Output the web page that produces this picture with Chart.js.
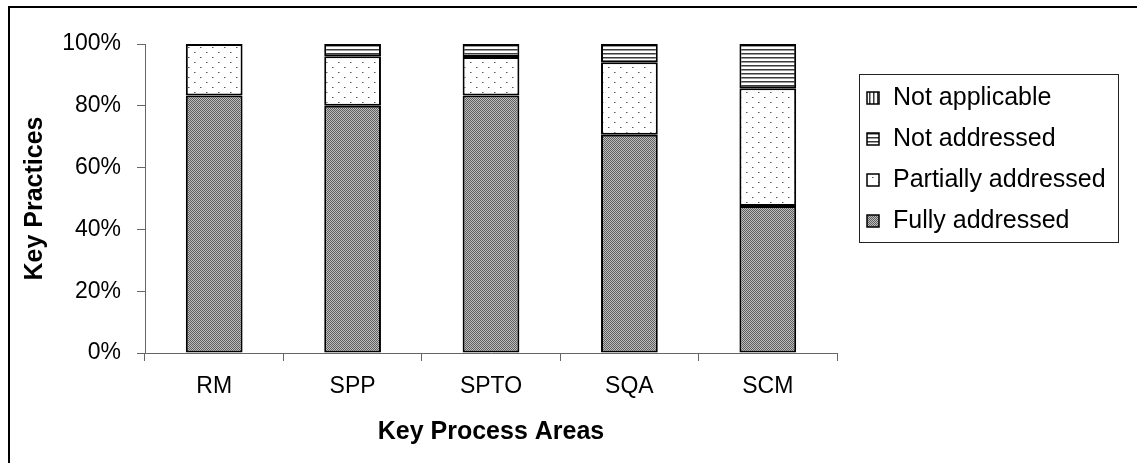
<!DOCTYPE html>
<html>
<head>
<meta charset="utf-8">
<title>Key Practices by Key Process Area</title>
<script src="https://cdn.jsdelivr.net/npm/chart.js@4.4.1/dist/chart.umd.min.js"></script>
<style>
  html, body { margin: 0; padding: 0; background: #fff; }
  #wrap { position: relative; width: 1137px; height: 463px; }
  canvas { display: block; }
</style>
</head>
<body>
<div id="wrap"><canvas id="kpa" width="1137" height="463"></canvas></div>
<script>
// Key process areas and the share of their key practices in each state (%)
const categories = ['RM', 'SPP', 'SPTO', 'SQA', 'SCM'];
const fullyAddressed     = [83.3, 80.0, 83.3, 70.6, 47.6];
const partiallyAddressed = [16.7, 16.0, 12.5, 23.5, 38.1];
const notAddressed       = [0.0, 4.0, 4.2, 5.9, 14.3];
const notApplicable      = [0, 0, 0, 0, 0];
const yTicks = [0, 20, 40, 60, 80, 100];

const FONT = '"Liberation Sans", Arial, sans-serif';

// Fill textures for the stacked segments
function tile(w, h, paint) {
  const c = document.createElement('canvas');
  c.width = w; c.height = h;
  const g = c.getContext('2d');
  paint(g);
  return document.createElement('canvas').getContext('2d').createPattern(c, 'repeat');
}
const denseFill = tile(4, 4, g => {
  g.fillStyle = '#bdbdbd'; g.fillRect(0, 0, 4, 4);
  g.fillStyle = '#5f5f5f';
  for (let y = 0; y < 4; y++) for (let x = 0; x < 4; x++) if ((x + y) % 2 === 0) g.fillRect(x, y, 1, 1);
});
const dotFill = tile(12, 10, g => {
  g.fillStyle = '#fff'; g.fillRect(0, 0, 12, 10);
  g.fillStyle = '#555'; g.fillRect(2, 2, 1, 1); g.fillRect(8, 7, 1, 1);
  g.fillStyle = '#aaa'; g.fillRect(3, 2, 1, 1); g.fillRect(9, 7, 1, 1);
});
const hLineFill = tile(4, 4, g => {
  g.fillStyle = '#fff'; g.fillRect(0, 0, 4, 4);
  g.fillStyle = '#3a3a3a'; g.fillRect(0, 1, 4, 1);
  g.fillStyle = '#9a9a9a'; g.fillRect(0, 2, 4, 1);
});
const vLineFill = tile(4, 4, g => {
  g.fillStyle = '#fff'; g.fillRect(0, 0, 4, 4);
  g.fillStyle = '#3a3a3a'; g.fillRect(1, 0, 1, 4);
  g.fillStyle = '#9a9a9a'; g.fillRect(2, 0, 1, 4);
});

// Outer frame of the figure (left and top rules)
const framePlugin = {
  id: 'frame',
  beforeDraw(chart) {
    const c = chart.ctx;
    c.save();
    c.strokeStyle = '#000';
    c.lineWidth = 2;
    c.beginPath();
    c.moveTo(9, chart.height);
    c.lineTo(9, 7);
    c.lineTo(chart.width, 7);
    c.stroke();
    c.restore();
  }
};

// Boxed legend listing the series top-down in stack order
const boxedLegend = {
  id: 'boxedLegend',
  afterDraw(chart, args, opts) {
    const c = chart.ctx;
    const { x, y, w, h, rowY, rowGap, swatch, textX } = opts;
    c.save();
    c.fillStyle = '#fff';
    c.fillRect(x, y, w, h);
    c.strokeStyle = '#222';
    c.lineWidth = 1;
    c.strokeRect(x + 0.5, y + 0.5, w, h);
    const sets = chart.data.datasets.slice().reverse();
    c.font = '25px ' + FONT;
    c.textBaseline = 'middle';
    sets.forEach((ds, i) => {
      const cy = rowY + i * rowGap;
      const sx = x + 8, sy = Math.round(cy - swatch / 2);
      c.fillStyle = ds.backgroundColor;
      c.fillRect(sx, sy, swatch, swatch);
      c.strokeStyle = '#000';
      c.lineWidth = 1.5;
      c.strokeRect(sx, sy, swatch, swatch);
      c.fillStyle = '#000';
      c.fillText(ds.label, textX, cy);
    });
    c.restore();
  }
};

const barStyle = { borderColor: '#000', borderWidth: 2, borderSkipped: false,
                   barPercentage: 0.41, categoryPercentage: 1.0 };

new Chart(document.getElementById('kpa'), {
  type: 'bar',
  data: {
    labels: categories,
    datasets: [
      { label: 'Fully addressed', data: fullyAddressed, backgroundColor: denseFill, ...barStyle },
      { label: 'Partially addressed', data: partiallyAddressed, backgroundColor: dotFill, ...barStyle },
      { label: 'Not addressed', data: notAddressed, backgroundColor: hLineFill, ...barStyle },
      { label: 'Not applicable', data: notApplicable, backgroundColor: vLineFill, ...barStyle }
    ]
  },
  options: {
    responsive: false,
    animation: false,
    events: [],
    layout: { padding: { top: 44, right: 300, bottom: 0, left: 0 } },
    plugins: {
      legend: { display: false },
      tooltip: { enabled: false },
      boxedLegend: { x: 859, y: 74, w: 259, h: 168, rowY: 98, rowGap: 41, swatch: 12, textX: 893 }
    },
    scales: {
      x: {
        stacked: true,
        grid: { offset: true, drawOnChartArea: false, drawTicks: true, tickLength: 8, color: '#666' },
        border: { color: '#666', width: 1 },
        ticks: { color: '#000', font: { family: FONT, size: 23 }, padding: 12 },
        title: { display: true, text: 'Key Process Areas', color: '#000',
                 font: { family: FONT, size: 25, weight: 'bold' }, padding: { bottom: 16 } },
        afterFit(s) { s.height = 110; }
      },
      y: {
        stacked: true,
        min: 0, max: 100,
        afterBuildTicks(s) { s.ticks = yTicks.map(v => ({ value: v })); },
        grid: { drawOnChartArea: false, drawTicks: true, tickLength: 8, color: '#666' },
        border: { color: '#666', width: 1 },
        ticks: { color: '#000', font: { family: FONT, size: 23 }, padding: 16,
                 callback: v => v + '%' },
        title: { display: true, text: 'Key Practices', color: '#000',
                 font: { family: FONT, size: 25, weight: 'bold' }, padding: { top: 20 } },
        afterFit(s) { s.width = 145; }
      }
    }
  },
  plugins: [framePlugin, boxedLegend]
});
</script>
</body>
</html>
